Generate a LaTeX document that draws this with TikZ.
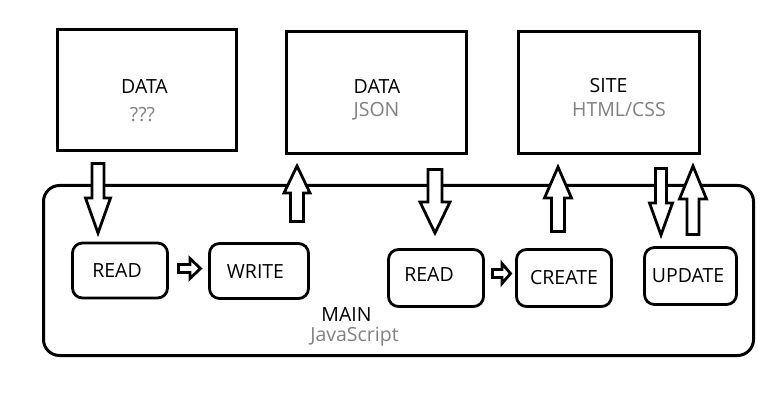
\documentclass[tikz,border=0pt]{standalone}
\usepackage{fontspec}
\setmainfont{Open Sans}
\usepackage{tikz}

\definecolor{subgray}{RGB}{128,128,128}

\begin{document}
\begin{tikzpicture}[
  x=1pt, y=-1pt,
  bigbox/.style={draw, line width=3pt, minimum width=179pt, minimum height=121pt, inner sep=0pt},
  opbox/.style={draw, line width=2.8pt, rounded corners=10pt, minimum width=95pt, minimum height=55pt, inner sep=0pt},
  txt/.style={anchor=base, inner sep=0pt, font=\fontsize{19.5}{22}\selectfont},
  sub/.style={txt, text=subgray},
  blk/.style={draw, line width=2.8pt, fill=white, line join=miter}
]
\useasboundingbox (0,0) rectangle (768,414);

% sources and targets
\node[bigbox] (raw) at (147,90) {};
\node[bigbox, minimum width=180pt, minimum height=122pt] (json) at (376.5,92.5) {};
\node[bigbox, minimum width=181pt, minimum height=122pt] (site) at (609,92.5) {};

\node[txt] (rawname) at (144.5,94) {DATA};
\node[sub] (rawtype) at (142.5,122) {???};
\node[txt] (jsonname) at (377,94) {DATA};
\node[sub] (jsontype) at (376.5,117) {JSON};
\node[txt] (sitename) at (608.5,93) {SITE};
\node[sub] (sitetype) at (619,117) {HTML/CSS};

% main program
\node[draw, line width=3pt, rounded corners=16pt, minimum width=710pt, minimum height=170pt] (main) at (398.5,270.5) {};
\node[txt] (mainname) at (346.5,321) {MAIN};
\node[sub] (mainlang) at (354.5,341) {JavaScript};

\node[opbox] (read1) at (120,270.5) {};
\node[opbox, minimum width=99pt] (write) at (259,271) {};
\node[opbox, minimum height=57pt] (read2) at (436,278) {};
\node[opbox, minimum height=57pt] (create) at (564,278) {};
\node[opbox, minimum width=92pt, minimum height=57pt] (update) at (690.5,276) {};

\node[txt] (read1txt) at (117,277) {READ};
\node[txt] (writetxt) at (255.5,278) {WRITE};
\node[txt] (read2txt) at (429,281) {READ};
\node[txt] (createtxt) at (564,284) {CREATE};
\node[txt] (updatetxt) at (688,282) {UPDATE};

% big block arrows: x / tail / head base / tip / shaft half / head half
\foreach \x/\t/\b/\p/\s/\h in {98/163.5/198/233/6/12.5,
                                435/169.5/202/233/7/15,
                                661/168.5/203/235/5.5/11.5,
                                297/221.5/193/166/6.5/13,
                                558/231.5/198/167/6.5/13.5,
                                693/234.5/199/166/6/13.5}
  \draw[blk] (\x-\s,\t) -- (\x+\s,\t) -- (\x+\s,\b) -- (\x+\h,\b)
    -- (\x,\p) -- (\x-\h,\b) -- (\x-\s,\b) -- cycle;

% small block arrows: y / tail / head base / tip
\foreach \y/\t/\b/\p in {268.5/178.5/190/200.5, 273.5/492.5/502/510.5}
  \draw[blk] (\t,\y-4) -- (\t,\y+4) -- (\b,\y+4) -- (\b,\y+10)
    -- (\p,\y) -- (\b,\y-10) -- (\b,\y-4) -- cycle;
\end{tikzpicture}
\end{document}
